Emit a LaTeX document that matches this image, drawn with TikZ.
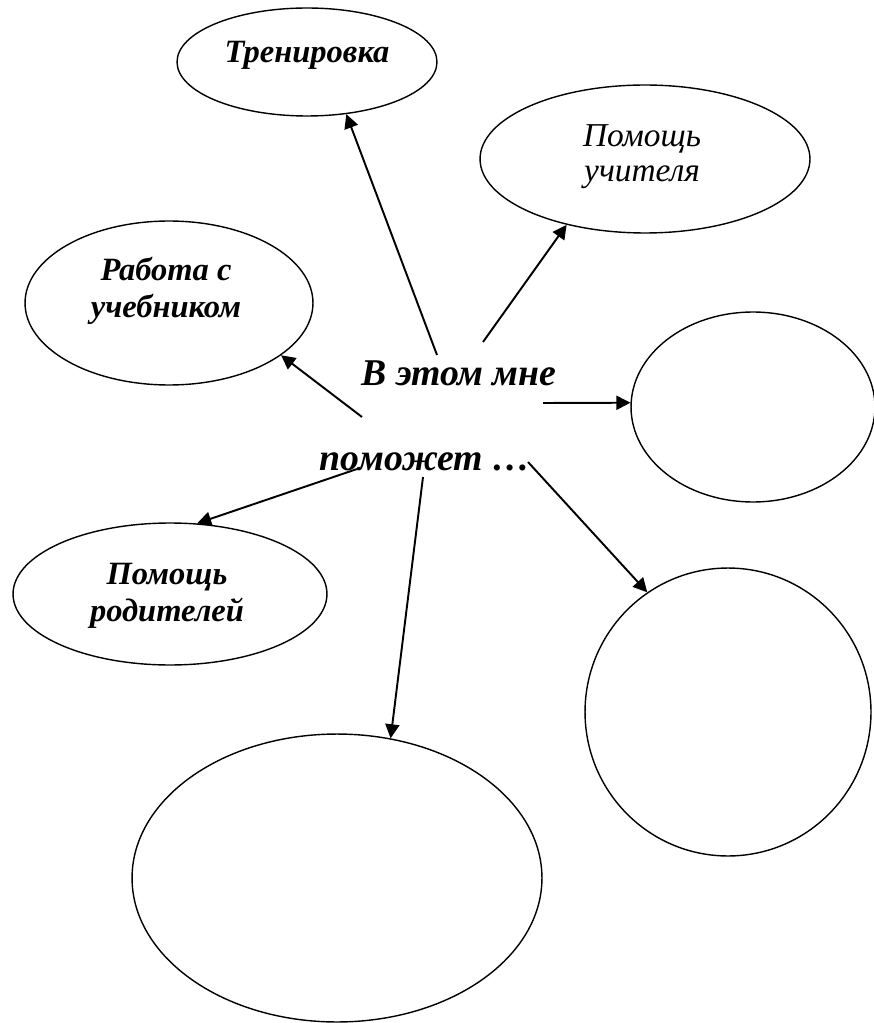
\documentclass[tikz,border=0pt]{standalone}
\usepackage{fontspec}
\setmainfont{Liberation Serif}
\usetikzlibrary{shapes.geometric,arrows.meta}
\tikzset{
  oval/.style={ellipse,draw,line width=0.8pt,inner sep=0pt},
  caption/.style={font=\fontsize{18.5}{21}\selectfont\bfseries\itshape,align=center,inner sep=0pt},
  thincaption/.style={font=\fontsize{19}{20}\selectfont\itshape,align=center,inner sep=0pt},
  bigcaption/.style={font=\fontsize{21.5}{22}\selectfont\bfseries\itshape,inner sep=0pt,anchor=base},
  arr/.style={-{Triangle[length=8pt,width=8pt]},line width=1.1pt},
}
\begin{document}
\begin{tikzpicture}[x=0.02cm,y=-0.02cm]
  % page frame
  \useasboundingbox (0,0) rectangle (873,1023);
  % draw ovals
  \node[oval,minimum width=5.2cm,minimum height=2.16cm] (tren) at (307,62) {};
  \node[oval,minimum width=6.6cm,minimum height=2.96cm] (uchit) at (645,159) {};
  \node[oval,minimum width=5.76cm,minimum height=3.28cm] (rabota) at (169,303) {};
  \node[oval,minimum width=4.88cm,minimum height=3.8cm] (right) at (753,407) {};
  \node[oval,minimum width=6.28cm,minimum height=2.84cm] (rodit) at (170,594) {};
  \node[oval,minimum width=5.72cm,minimum height=5.76cm] (botright) at (728,712) {};
  \node[oval,minimum width=8.2cm,minimum height=5.76cm] (bottom) at (337,878) {};
  % draw oval texts
  \node[caption,anchor=base] (trentxt) at (307,63) {Тренировка};
  \node[thincaption] (uchittxt) at (642,157) {Помощь\\учителя};
  \node[caption] (rabotatxt) at (166,291) {Работа с\\учебником};
  \node[caption] (rodittxt) at (167,596) {Помощь\\родителей};
  % draw middle text
  \node[bigcaption] (mid1) at (459,385) {В этом мне};
  \node[bigcaption] (mid2) at (425,470) {поможет …};
  % arrow starts
  \coordinate (s1) at (437,355);
  \coordinate (s2) at (483,342);
  \coordinate (s3) at (362,417);
  \coordinate (s4) at (543,403);
  \coordinate (s5) at (360,468);
  \coordinate (s6) at (423,477);
  \coordinate (s7) at (528,462);
  % draw arrows
  \draw[arr] (s1) -- (tren.-53);
  \draw[arr] (s2) -- (uchit.-140);
  \draw[arr] (s3) -- (rabota.-25);
  \draw[arr] (s4) -- (right.178);
  \draw[arr] (s5) -- (rodit.69);
  \draw[arr] (s6) -- (bottom.69);
  \draw[arr] (s7) -- (botright.124);
\end{tikzpicture}
\end{document}
